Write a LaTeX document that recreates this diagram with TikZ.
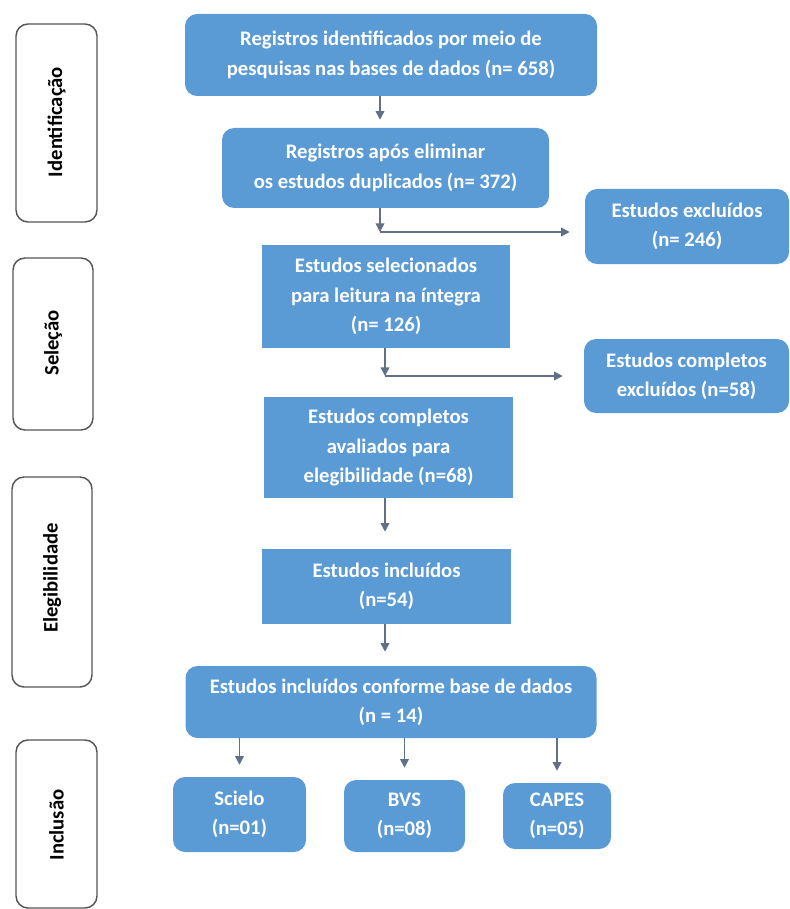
\documentclass[tikz,border=0pt]{standalone}
\usepackage{fontspec}
\setmainfont{Carlito}
\usetikzlibrary{arrows.meta}
\newlength\pxu
\setlength\pxu{0.75pt}
\definecolor{boxblue}{RGB}{91,155,213}
\definecolor{arrowgray}{RGB}{95,112,135}
\definecolor{stagegray}{RGB}{85,85,85}
\tikzset{
  flowbox/.style={fill=boxblue, text=white, align=center, inner sep=0pt,
    font=\bfseries\fontsize{15.5pt}{22pt}\selectfont},
  roundbox/.style={flowbox, rounded corners=9pt},
  stagebox/.style={draw=stagegray, line width=1.1pt, rounded corners=9pt},
  stagelabel/.style={rotate=90, font=\bfseries\fontsize{15.5pt}{16pt}\selectfont},
  arr/.style={draw=arrowgray, line width=1.2pt, -{Triangle[length=6.5pt,width=6.5pt]}}
}
\begin{document}
\begin{tikzpicture}[x=0.75pt,y=-0.75pt]
        \useasboundingbox (0,0) rectangle (789,909);
        % stages
        \draw [stagebox] (16,24) rectangle (97,222);
        \draw [stagebox] (13,258) rectangle (93,430);
        \draw [stagebox] (12,477) rectangle (92,687);
        \draw [stagebox] (16,740) rectangle (97,908);
        \node [stagelabel] (ident) at (56.5,122) {Identificação};
        \node [stagelabel] (selec) at (53,343) {Seleção};
        \node [stagelabel] (elegi) at (52,578) {Elegibilidade};
        \node [stagelabel] (inclu) at (56.5,825) {Inclusão};

        % flow
        \node [roundbox, minimum width=412\pxu, minimum height=82\pxu] (top) at (391,55)
            {Registros identificados por meio de\\pesquisas nas bases de dados (n= 658)};
        \node [roundbox, minimum width=327\pxu, minimum height=80\pxu] (dup) at (385.5,168)
            {Registros após eliminar\\os estudos duplicados (n= 372)};
        \node [flowbox, minimum width=248\pxu, minimum height=103\pxu] (sel) at (386,296.5)
            {Estudos selecionados\\para leitura na íntegra\\(n= 126)};
        \node [roundbox, minimum width=204\pxu, minimum height=75\pxu] (exc1) at (687,226.5)
            {Estudos excluídos\\(n= 246)};
        \node [roundbox, minimum width=205\pxu, minimum height=74\pxu] (exc2) at (686.5,376)
            {Estudos completos\\excluídos (n=58)};
        \node [flowbox, minimum width=249\pxu, minimum height=101\pxu] (ava) at (388.5,447.5)
            {Estudos completos\\avaliados para\\elegibilidade (n=68)};
        \node [flowbox, minimum width=249\pxu, minimum height=75\pxu] (inc) at (386.5,586.5)
            {Estudos incluídos\\(n=54)};
        \node [roundbox, minimum width=411\pxu, minimum height=72\pxu] (base) at (391,702)
            {Estudos incluídos conforme base de dados\\(n = 14)};
        \node [roundbox, minimum width=133\pxu, minimum height=75\pxu] (scielo) at (239.5,814.5)
            {Scielo\\(n=01)};
        \node [roundbox, minimum width=121\pxu, minimum height=72\pxu] (bvs) at (404.5,816)
            {BVS\\(n=08)};
        \node [roundbox, minimum width=108\pxu, minimum height=66\pxu] (capes) at (557,816)
            {CAPES\\(n=05)};

        % connectors
        \coordinate (c1) at (380,232);
        \coordinate (c2) at (385,376);
        \draw [arr, shorten >=8\pxu] (top.south -| c1) -- (dup.north -| c1);
        \draw [arr] (dup.south -| c1) -- (c1);
        \draw [arr, shorten >=15\pxu] (c1) -- (exc1.west |- c1);
        \draw [arr] (sel.south -| c2) -- (c2);
        \draw [arr, shorten >=21\pxu] (c2) -- (exc2.west |- c2);
        \draw [arr, shorten >=17\pxu] (ava.south -| c2) -- (inc.north -| c2);
        \draw [arr, shorten >=14\pxu] (inc.south -| c2) -- (base.north -| c2);
        \foreach \n in {scielo,bvs,capes}{
            \draw [arr, shorten >=12\pxu] (base.south -| \n) -- (\n.north);
        }
\end{tikzpicture}
\end{document}
